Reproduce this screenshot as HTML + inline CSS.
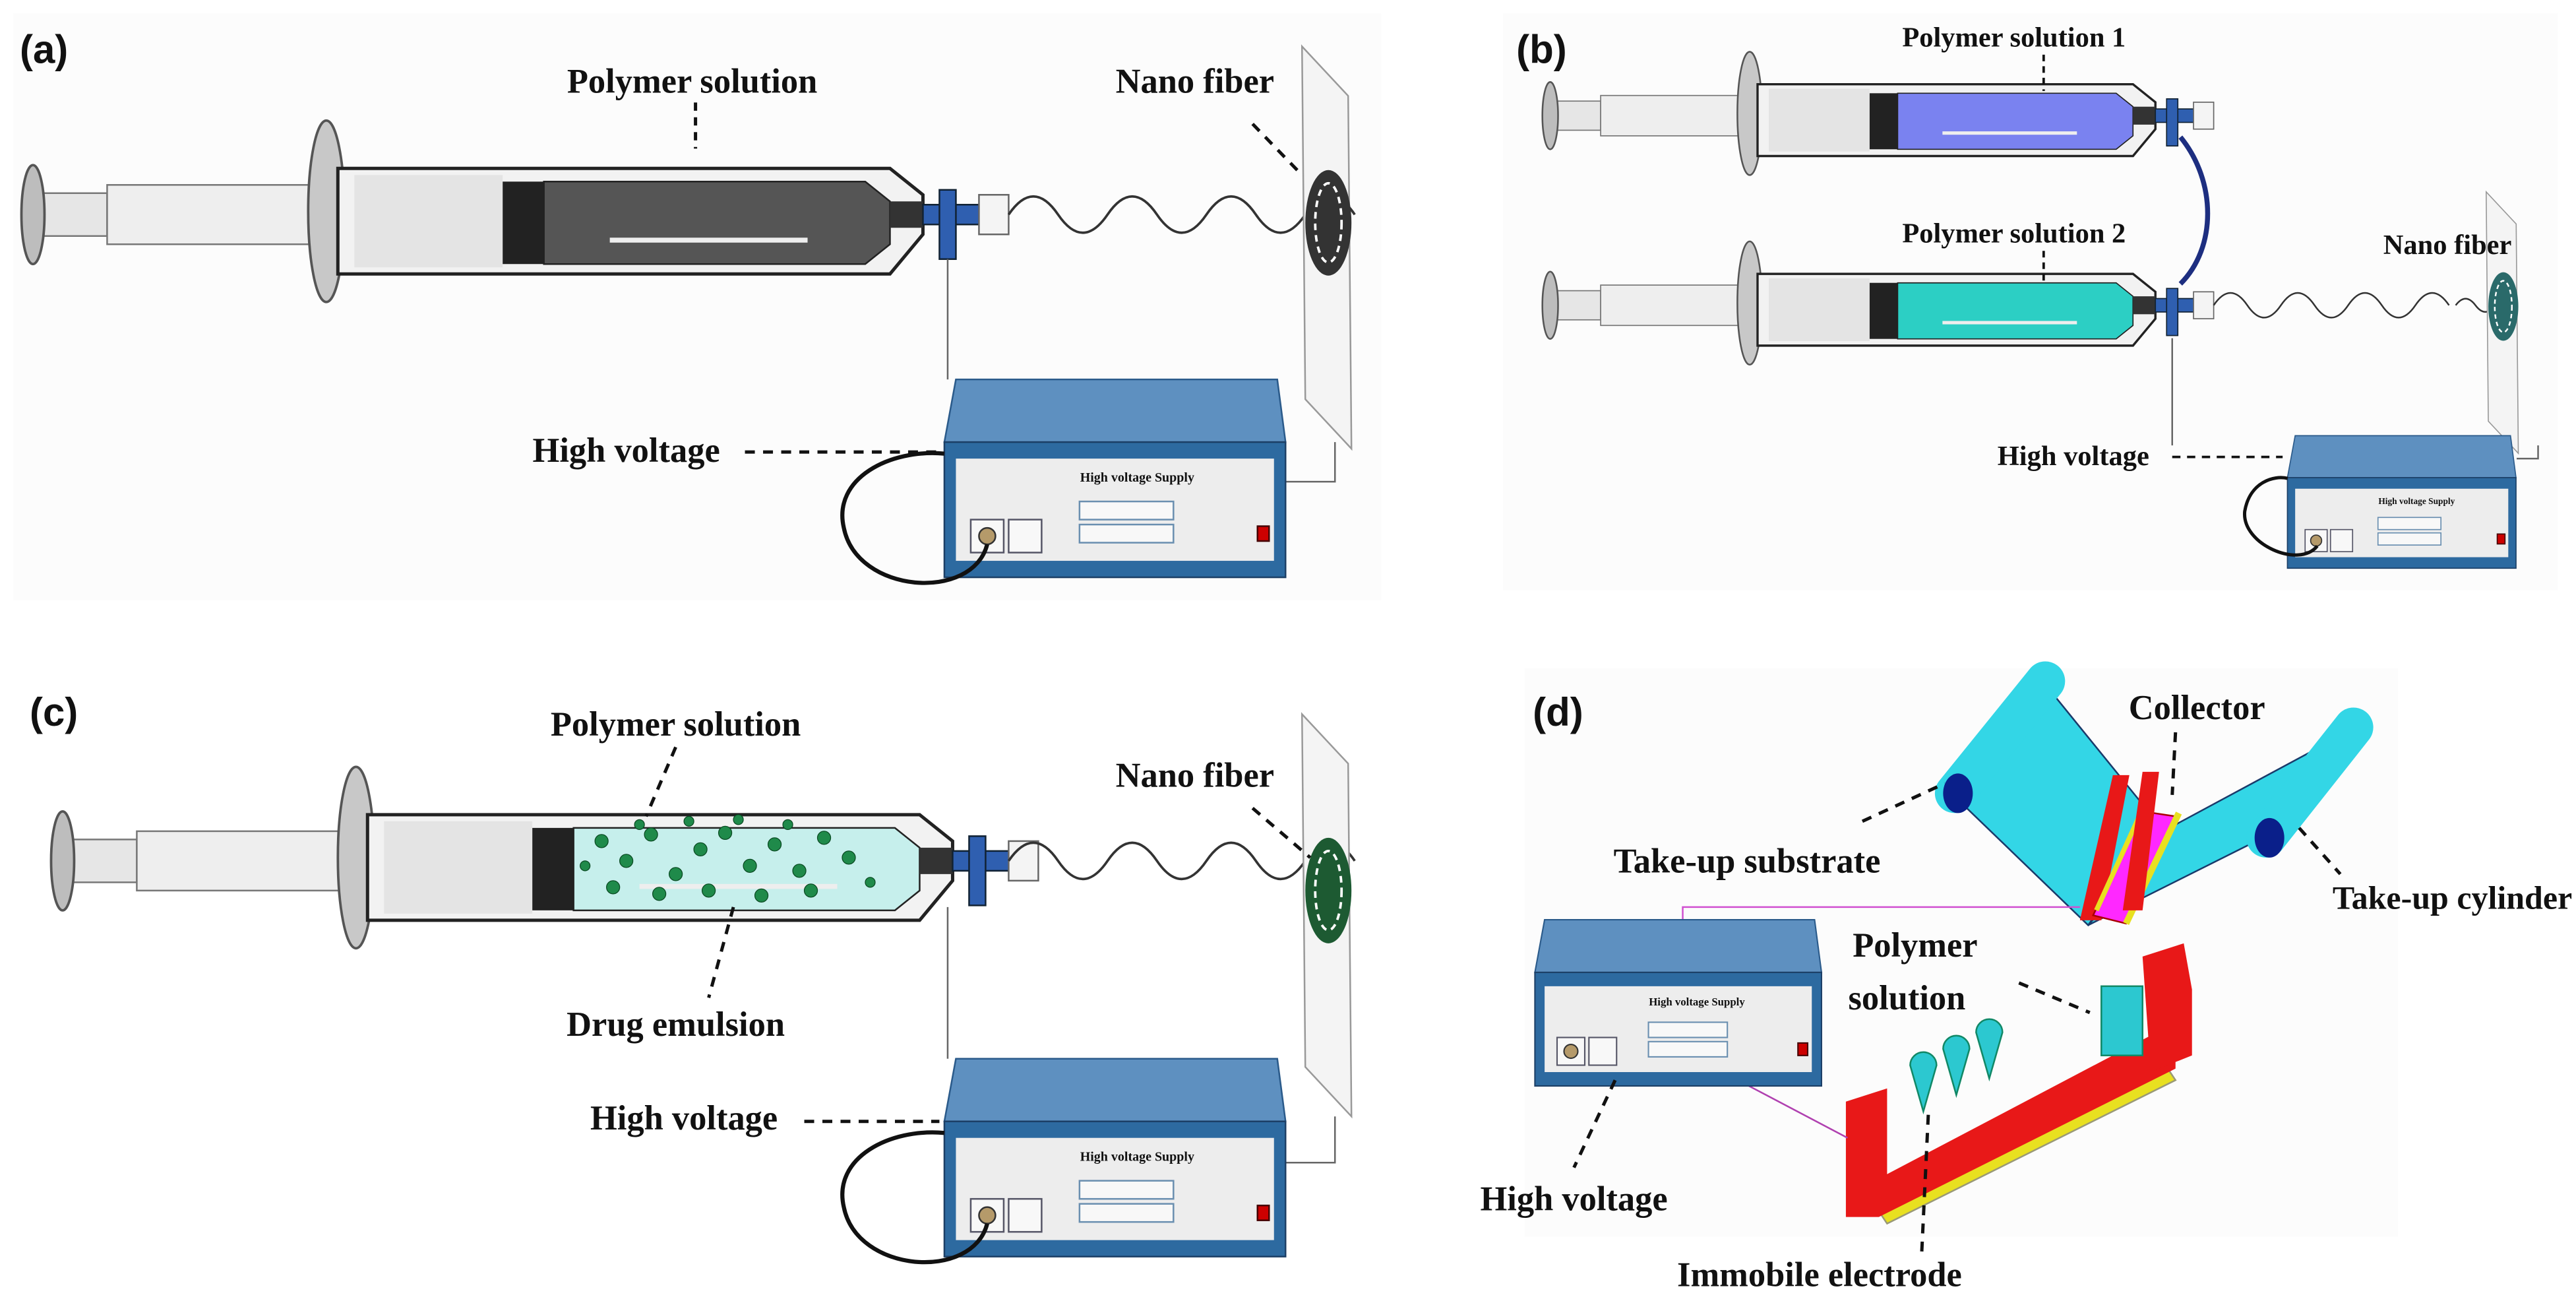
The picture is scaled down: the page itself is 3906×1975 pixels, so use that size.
<!DOCTYPE html>
<html><head><meta charset="utf-8"><style>
html,body{margin:0;padding:0;background:#fff}
svg{display:block}
text{font-family:"Liberation Serif",serif;font-weight:bold;fill:#111}
.lab{font-family:"Liberation Sans",sans-serif;font-size:24px}
</style></head><body>
<svg width="3906" height="1975" viewBox="0 0 1563 790" xmlns="http://www.w3.org/2000/svg">
<defs>
<g id="syr">
 <rect x="25" y="117" width="40" height="26" fill="#e6e6e6" stroke="#777"/>
 <rect x="65" y="112" width="135" height="36" fill="#eee" stroke="#777"/>
 <ellipse cx="20" cy="130" rx="7" ry="30" fill="#bdbdbd" stroke="#555" stroke-width="1.5"/>
 <ellipse cx="198" cy="128" rx="11" ry="55" fill="#c8c8c8" stroke="#555" stroke-width="1.5"/>
 <path d="M205 102 H540 L560 118 V142 L540 166 H205 Z" fill="#f2f2f2" stroke="#222" stroke-width="2"/>
 <rect x="215" y="106" width="90" height="56" fill="#e4e4e4"/>
 <rect x="305" y="110" width="25" height="50" fill="#222"/>
 <path d="M330 110 H525 L540 122 V148 L525 160 H330 Z" fill="currentColor" stroke="#222"/>
 <rect x="370" y="144" width="120" height="3" fill="#eee"/>
 <rect x="540" y="122" width="20" height="16" fill="#333"/>
 <rect x="560" y="124" width="50" height="12" fill="#2f5fb0" stroke="#123"/>
 <rect x="570" y="115" width="10" height="42" fill="#2f5fb0" stroke="#123"/>
 <rect x="594" y="118" width="18" height="24" fill="#f4f4f4" stroke="#666"/>
</g>
<g id="psu">
 <path d="M580 230 H775 L780 268 H573 Z" fill="#5e90c0" stroke="#2a5a8a"/>
 <rect x="573" y="268" width="207" height="82" fill="#2d6aa0" stroke="#1c3f66"/>
 <rect x="580" y="278" width="193" height="62" fill="#ededed"/>
 <text x="690" y="292" font-size="8" text-anchor="middle">High voltage Supply</text>
 <rect x="655" y="304" width="57" height="11" fill="#f8f8f8" stroke="#6a8fb0"/>
 <rect x="655" y="318" width="57" height="11" fill="#f8f8f8" stroke="#6a8fb0"/>
 <rect x="589" y="315" width="20" height="20" fill="#f8f8f8" stroke="#556"/>
 <circle cx="599" cy="325" r="5" fill="#b59a6a" stroke="#333"/>
 <rect x="612" y="315" width="20" height="20" fill="#f8f8f8" stroke="#556"/>
 <rect x="763" y="319" width="7" height="9" fill="#c00" stroke="#400"/>
</g>
<path id="wave" d="M612 130 q15 -22 30 0 t30 0 t30 0 t30 0 t30 0 t30 0 t30 0" fill="none" stroke="#333" stroke-width="1.5"/>
<g id="coll">
 <polygon points="790,28 818,58 820,272 792,242" fill="#f4f4f4" stroke="#999"/>
 <ellipse cx="806" cy="135" rx="14" ry="32" fill="currentColor"/>
 <ellipse cx="806" cy="135" rx="8" ry="24" fill="none" stroke="#fff" stroke-width="1.5" stroke-dasharray="4 3"/>
</g>
</defs>

<!-- panel (a) -->
<rect x="8" y="8" width="830" height="356" fill="#fcfcfc"/>
<text x="12" y="38" class="lab">(a)</text>
<use href="#syr" color="#555"/>
<use href="#wave"/>
<use href="#coll" color="#333"/>
<line x1="575" y1="157" x2="575" y2="230" stroke="#666"/>
<polyline points="780,292 810,292 810,268" fill="none" stroke="#666"/>
<use href="#psu"/>
<path d="M599 330 C590 365 520 360 512 320 C505 290 540 272 573 275" fill="none" stroke="#111" stroke-width="2.5"/>
<text x="420" y="56" font-size="21" text-anchor="middle">Polymer solution</text>
<line x1="422" y1="62" x2="422" y2="90" stroke="#111" stroke-width="2" stroke-dasharray="5 4"/>
<text x="725" y="56" font-size="21" text-anchor="middle">Nano fiber</text>
<line x1="760" y1="75" x2="790" y2="106" stroke="#111" stroke-width="2" stroke-dasharray="6 5"/>
<text x="380" y="280" font-size="21" text-anchor="middle">High voltage</text>
<line x1="452" y1="274" x2="570" y2="274" stroke="#111" stroke-width="2" stroke-dasharray="6 5"/>

<!-- panel (b) -->
<rect x="912" y="8" width="640" height="350" fill="#fcfcfc"/>
<text x="920" y="38" class="lab">(b)</text>
<g transform="translate(927,-18.4) scale(0.68)"><use href="#syr" color="#7a82f0"/></g>
<g transform="translate(927,96.6) scale(0.68)"><use href="#syr" color="#2ccfc4"/></g>
<path d="M1323 83 C1345 110 1345 150 1323 172" fill="none" stroke="#1d2e80" stroke-width="3"/>
<g transform="translate(927,96.6) scale(0.68)"><use href="#wave"/></g>
<path d="M1490 185 q6 -8 12 0 t12 0" fill="none" stroke="#333" stroke-width="1"/>
<g transform="translate(995,98) scale(0.65)"><use href="#coll" color="#2a6a6a"/></g>
<line x1="1318" y1="205" x2="1318" y2="270" stroke="#666"/>
<polyline points="1527,278 1540,278 1540,270" fill="none" stroke="#666"/>
<g transform="translate(1004,110) scale(0.67)"><use href="#psu"/></g>
<path d="M1406 331 C1395 345 1360 330 1362 310 C1365 292 1380 288 1388 290" fill="none" stroke="#111" stroke-width="2"/>
<text x="1222" y="28" font-size="17" text-anchor="middle">Polymer solution 1</text>
<line x1="1240" y1="33" x2="1240" y2="55" stroke="#111" stroke-width="1.5" stroke-dasharray="4 3"/>
<text x="1222" y="147" font-size="17" text-anchor="middle">Polymer solution 2</text>
<line x1="1240" y1="152" x2="1240" y2="172" stroke="#111" stroke-width="1.5" stroke-dasharray="4 3"/>
<text x="1485" y="154" font-size="17" text-anchor="middle">Nano fiber</text>
<text x="1258" y="282" font-size="17" text-anchor="middle">High voltage</text>
<line x1="1318" y1="277" x2="1385" y2="277" stroke="#111" stroke-width="1.5" stroke-dasharray="5 4"/>

<!-- panel (c) -->
<text x="18" y="440" class="lab">(c)</text>
<g transform="translate(18,392)"><use href="#syr" color="#c6efec"/></g>
<g fill="#1f8a4a" stroke="#0a4a22" stroke-width="0.5">
<circle cx="365" cy="510" r="4"/><circle cx="380" cy="522" r="4"/><circle cx="395" cy="506" r="4"/><circle cx="410" cy="530" r="4"/><circle cx="425" cy="515" r="4"/><circle cx="440" cy="505" r="4"/><circle cx="455" cy="525" r="4"/><circle cx="470" cy="512" r="4"/><circle cx="485" cy="528" r="4"/><circle cx="500" cy="508" r="4"/><circle cx="515" cy="520" r="4"/><circle cx="372" cy="538" r="4"/><circle cx="400" cy="542" r="4"/><circle cx="430" cy="540" r="4"/><circle cx="462" cy="543" r="4"/><circle cx="492" cy="540" r="4"/><circle cx="388" cy="500" r="3"/><circle cx="448" cy="497" r="3"/><circle cx="478" cy="500" r="3"/><circle cx="528" cy="535" r="3"/><circle cx="355" cy="525" r="3"/><circle cx="418" cy="498" r="3"/>
</g>
<g transform="translate(0,392)"><use href="#wave"/></g>
<g transform="translate(0,405)"><use href="#coll" color="#1d5a32"/></g>
<line x1="575" y1="550" x2="575" y2="642" stroke="#666"/>
<polyline points="780,705 810,705 810,677" fill="none" stroke="#666"/>
<g transform="translate(0,412)"><use href="#psu"/></g>
<path d="M599 742 C590 777 520 772 512 732 C505 702 540 684 573 687" fill="none" stroke="#111" stroke-width="2.5"/>
<text x="410" y="446" font-size="21" text-anchor="middle">Polymer solution</text>
<line x1="410" y1="453" x2="392" y2="495" stroke="#111" stroke-width="2" stroke-dasharray="6 5"/>
<text x="410" y="628" font-size="21" text-anchor="middle">Drug emulsion</text>
<line x1="445" y1="550" x2="430" y2="605" stroke="#111" stroke-width="2" stroke-dasharray="6 5"/>
<text x="725" y="477" font-size="21" text-anchor="middle">Nano fiber</text>
<line x1="760" y1="490" x2="795" y2="520" stroke="#111" stroke-width="2" stroke-dasharray="6 5"/>
<text x="415" y="685" font-size="21" text-anchor="middle">High voltage</text>
<line x1="488" y1="680" x2="570" y2="680" stroke="#111" stroke-width="2" stroke-dasharray="6 5"/>

<!-- panel (d) -->
<rect x="925" y="405" width="530" height="345" fill="#fcfcfc"/>
<text x="930" y="440" class="lab">(d)</text>
<polygon points="1184,481 1241,415 1310,500 1267,561" fill="#33d6e6" stroke="#1a3a6a"/>
<polygon points="1267,561 1373,508 1426,443 1320,500" fill="#33d6e6" stroke="#1a3a6a"/>
<line x1="1186" y1="481" x2="1241" y2="413" stroke="#33d6e6" stroke-width="24" stroke-linecap="round"/>
<ellipse cx="1188" cy="481" rx="9" ry="12" fill="#0a1f8a"/>
<polygon points="1262,558 1282,470 1292,470 1275,558" fill="#e81818"/>
<polygon points="1270,555 1300,492 1320,495 1290,560" fill="#ff28ff" stroke="#a00"/>
<line x1="1290" y1="560" x2="1322" y2="493" stroke="#e8e020" stroke-width="4"/>
<line x1="1272" y1="552" x2="1298" y2="495" stroke="#e8e020" stroke-width="3"/>
<polygon points="1288,552 1300,468 1310,468 1300,552" fill="#e81818"/>
<line x1="1375" y1="508" x2="1428" y2="441" stroke="#33d6e6" stroke-width="24" stroke-linecap="round"/>
<ellipse cx="1377" cy="508" rx="9" ry="12" fill="#0a1f8a"/>
<polygon points="1135,727 1310,640 1320,655 1145,742" fill="#e8e020" stroke="#997"/>
<polygon points="1120,668 1145,660 1145,712 1320,620 1320,648 1140,738 1120,738" fill="#e81818"/>
<polygon points="1300,580 1325,572 1330,600 1330,640 1305,650" fill="#e81818"/>
<rect x="1275" y="598" width="25" height="42" fill="#2cc8d0" stroke="#186"/>
<g fill="#2cc8d0" stroke="#186">
<path d="M1167 674 l-8 -28 a8 8 0 0 1 16 0 z"/>
<path d="M1187 664 l-8 -28 a8 8 0 0 1 16 0 z"/>
<path d="M1207 654 l-8 -28 a8 8 0 0 1 16 0 z"/>
</g>
<polyline points="1021,560 1021,550 1262,550" fill="none" stroke="#d050d0"/>
<line x1="1045" y1="650" x2="1121" y2="690" stroke="#b040b0"/>
<g transform="translate(450,364.5) scale(0.84)"><use href="#psu"/></g>
<text x="1333" y="436" font-size="21" text-anchor="middle">Collector</text>
<line x1="1320" y1="444" x2="1318" y2="482" stroke="#111" stroke-width="2" stroke-dasharray="6 5"/>
<text x="1060" y="529" font-size="21" text-anchor="middle">Take-up substrate</text>
<line x1="1130" y1="498" x2="1180" y2="475" stroke="#111" stroke-width="2" stroke-dasharray="6 5"/>
<text x="1488" y="551" font-size="20" text-anchor="middle">Take-up cylinder</text>
<line x1="1395" y1="502" x2="1420" y2="530" stroke="#111" stroke-width="2" stroke-dasharray="6 5"/>
<text x="1162" y="580" font-size="21" text-anchor="middle">Polymer</text>
<text x="1157" y="612" font-size="21" text-anchor="middle">solution</text>
<line x1="1225" y1="596" x2="1268" y2="614" stroke="#111" stroke-width="2" stroke-dasharray="6 5"/>
<text x="955" y="734" font-size="21" text-anchor="middle">High voltage</text>
<line x1="980" y1="655" x2="955" y2="708" stroke="#111" stroke-width="2" stroke-dasharray="6 5"/>
<text x="1104" y="780" font-size="21" text-anchor="middle">Immobile electrode</text>
<line x1="1170" y1="676" x2="1166" y2="760" stroke="#111" stroke-width="2" stroke-dasharray="6 5"/>
</svg>
</body></html>
